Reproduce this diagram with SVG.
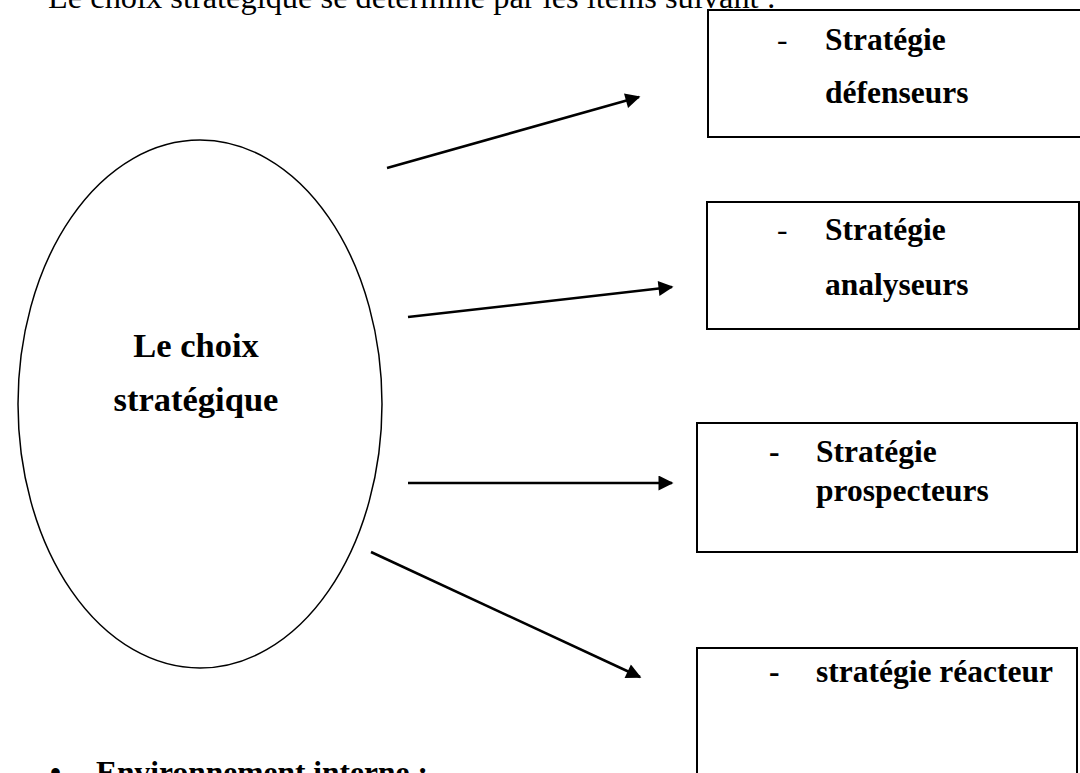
<svg xmlns="http://www.w3.org/2000/svg" width="1080" height="773" viewBox="0 0 1080 773">
<style>
  text { font-family: "Liberation Serif", "Times New Roman", serif; font-size: 31.5px; fill: #000; }
  .b { font-weight: bold; }
  .big { font-size: 34.5px; }
  .top { font-size: 32.4px; }
  .box { fill: #fff; stroke: #000; stroke-width: 2; }
  .conn { stroke: #000; stroke-width: 2.5; fill: none; marker-end: url(#ah); }
</style>
<defs>
  <marker id="ah" viewBox="0 0 10 10" refX="9" refY="5" markerWidth="6.5" markerHeight="6" markerUnits="strokeWidth" orient="auto">
    <path d="M0,0 L10,5 L0,10 z" fill="#000"/>
  </marker>
</defs>
<rect width="1080" height="773" fill="#fff"/>
<text class="top" x="48" y="8">Le choix  stratégique  se détermine par les items suivant :</text>

<g id="center">
  <ellipse cx="200" cy="404" rx="182" ry="264" fill="#fff" stroke="#000" stroke-width="1.5"/>
  <text class="b big" x="196" y="357" text-anchor="middle">Le choix</text>
  <text class="b big" x="196" y="411" text-anchor="middle">stratégique</text>
</g>

<g id="defenseurs">
  <rect class="box" x="708" y="10" width="380" height="127"/>
  <text x="777" y="50">-</text>
  <text class="b" x="825" y="50">Stratégie</text>
  <text class="b" x="825" y="103">défenseurs</text>
</g>

<g id="analyseurs">
  <rect class="box" x="707" y="202" width="372" height="127"/>
  <text x="777" y="240">-</text>
  <text class="b" x="825" y="240">Stratégie</text>
  <text class="b" x="825" y="295">analyseurs</text>
</g>

<g id="prospecteurs">
  <rect class="box" x="697" y="423" width="380" height="129"/>
  <text class="b" x="769" y="462">-</text>
  <text class="b" x="816" y="462">Stratégie</text>
  <text class="b" x="816" y="501">prospecteurs</text>
</g>

<g id="reacteur">
  <rect class="box" x="697" y="648" width="380" height="140"/>
  <text class="b" x="769" y="682">-</text>
  <text class="b" x="816" y="682">stratégie réacteur</text>
</g>

<g id="connectors">
  <line class="conn" x1="387" y1="168" x2="639" y2="97"/>
  <line class="conn" x1="408" y1="317" x2="672" y2="287"/>
  <line class="conn" x1="408" y1="483" x2="672" y2="483"/>
  <line class="conn" x1="371" y1="552" x2="640" y2="677"/>
</g>

<text class="b" x="50" y="783">•</text>
<text class="b" x="96" y="783">Environnement interne :</text>
</svg>
